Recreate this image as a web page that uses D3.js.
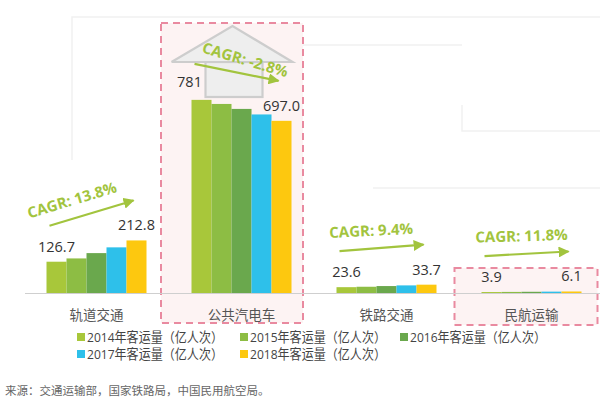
<!DOCTYPE html>
<html><head><meta charset="utf-8">
<script src="https://cdn.jsdelivr.net/npm/d3@7"></script>
<style>body{margin:0;background:#fff;}svg{display:block;font-family:"Open Sans","Noto Sans CJK SC",sans-serif;}</style>
</head><body><svg id="c" width="600" height="399"></svg>
<script>
const categories = ["轨道交通","公共汽电车","铁路交通","民航运输"];
const years = ["2014","2015","2016","2017","2018"];
const legendLabels = ["2014年客运量（亿人次）","2015年客运量（亿人次）","2016年客运量（亿人次）","2017年客运量（亿人次）","2018年客运量（亿人次）"];
const railTransit = [126.7,140.0,161.5,184.8,212.8];
const bus = [781.9,765.4,745.3,722.9,697.0];
const railway = [23.6,25.3,28.1,30.8,33.7];
const aviation = [3.9,4.4,4.9,5.5,6.1];
const firstLabels = ["126.7","781","23.6","3.9"];
const lastLabels = ["212.8","697.0","33.7","6.1"];
const cagrLabels = ["CAGR: 13.8%","CAGR: -2.8%","CAGR: 9.4%","CAGR: 11.8%"];
const sourceText = "来源：交通运输部，国家铁路局，中国民用航空局。";

const series = [railTransit, bus, railway, aviation];
const colors = ["#a8c73a","#8dbd44","#6aa84d","#2ec0ea","#fdc80f"];
const green = "#a2c43e";

const svg = d3.select("#c");
const x = d3.scaleBand().domain(categories).range([24, 604]);
const xi = d3.scaleBand().domain(years).range([-50, 50]);
const y = d3.scaleLinear().domain([0, 800]).range([293, 95.4]);
const color = d3.scaleOrdinal().domain(years).range(colors);

// faint background decoration lines
const deco = svg.append("g").attr("stroke","#f1f1f1").attr("stroke-width",1.5).attr("fill","none");
[[[72,160],[72,17],[600,17]],[[300,45],[462,45]],[[462,105],[462,131],[600,131]],[[373,188],[600,188]]]
  .forEach(p => deco.append("path").attr("d", d3.line()(p)));

// highlight boxes
function box(cat, x0pad, x1pad, yTop, yBot){
  const cx = x(cat) + x.bandwidth()/2;
  svg.append("rect").attr("x", cx + x0pad).attr("y", yTop)
    .attr("width", x1pad - x0pad).attr("height", yBot - yTop)
    .attr("fill","#fdf3f3").attr("stroke","#e98aa0").attr("stroke-width",2)
    .attr("stroke-dasharray","7,5");
}
box(categories[1], -80.5, 61.5, 23, 323);
box(categories[3], -77, 66, 268, 325);

// house icon
{
  const cx = x(categories[1]) + x.bandwidth()/2;
  const g = svg.append("g").attr("fill","#eeeeee").attr("stroke","#cdcdcd").attr("stroke-width",2.2);
  g.append("rect").attr("x", cx - 36).attr("y", 62).attr("width", 57).attr("height", 35);
  g.append("path").attr("d", d3.line()([[cx - 70, 62],[cx - 9, 26],[cx + 51, 62],[cx - 70, 62]]));
}

// baseline
svg.append("line").attr("x1",25).attr("x2",600).attr("y1",y(0)+0.5).attr("y2",y(0)+0.5)
  .attr("stroke","#cfcfcf").attr("stroke-width",1.2);

// bars
const groups = svg.append("g").selectAll("g").data(categories).join("g")
  .attr("transform", d => `translate(${x(d) + x.bandwidth()/2},0)`);
groups.selectAll("rect").data((d,i) => years.map((yr,j) => ({yr, v: series[i][j]})))
  .join("rect")
  .attr("x", d => xi(d.yr)).attr("width", xi.bandwidth())
  .attr("y", d => y(d.v)).attr("height", d => y(0) - y(d.v))
  .attr("fill", d => color(d.yr));

// value labels
categories.forEach((c,i) => {
  const cx = x(c) + x.bandwidth()/2;
  const s = series[i];
  const fx = cx + xi(years[0]) + xi.bandwidth()/2 - (i===1 ? 12 : 0);
  const lx = cx + xi(years[4]) + xi.bandwidth()/2;
  svg.append("text").attr("x", fx).attr("y", y(s[0]) - (i===1 ? 13 : 10)).attr("text-anchor","middle")
    .attr("font-size",14.5).attr("fill","#333").text(firstLabels[i]);
  svg.append("text").attr("x", lx).attr("y", y(s[4]) - 10).attr("text-anchor","middle")
    .attr("font-size",14.5).attr("fill","#333").text(lastLabels[i]);
});

// CAGR arrows & text
svg.append("defs").append("marker").attr("id","ah").attr("viewBox","0 0 10 10")
  .attr("refX",9).attr("refY",5).attr("markerWidth",5).attr("markerHeight",5)
  .attr("orient","auto").attr("markerUnits","strokeWidth")
  .append("path").attr("d","M0,0L10,5L0,10z").attr("fill",green);
const along = [-15, 6, -9, -4];
const perp = [18, 14, 18, 18];
const extraRot = [0, 5, 1.5, 1.5];
categories.forEach((c,i) => {
  const cx = x(c) + x.bandwidth()/2;
  const s = series[i];
  const x0 = cx - 47, x1 = cx + 37;
  const y0 = y(s[0]) - 36, y1 = y(s[4]) - 40;
  svg.append("line").attr("x1",x0).attr("y1",y0).attr("x2",x1).attr("y2",y1)
    .attr("stroke",green).attr("stroke-width",2.2).attr("marker-end","url(#ah)");
  const ang = Math.atan2(y1 - y0, x1 - x0);
  const mx = (x0 + x1)/2, my = (y0 + y1)/2;
  const tx = mx + along[i]*Math.cos(ang) + perp[i]*Math.sin(ang);
  const ty = my + along[i]*Math.sin(ang) - perp[i]*Math.cos(ang);
  svg.append("text").attr("transform", `translate(${tx},${ty}) rotate(${ang*180/Math.PI + extraRot[i]})`)
    .attr("text-anchor","middle").attr("dy","0.35em")
    .attr("font-size",15).attr("font-weight",700).attr("fill",green).text(cagrLabels[i]);
});

// category labels
svg.append("g").selectAll("text").data(categories).join("text")
  .attr("x", d => x(d) + x.bandwidth()/2).attr("y", 320)
  .attr("text-anchor","middle").attr("font-size",13.5).attr("fill","#555").text(d => d);

// legend
const legPos = [[77,337],[240,337],[400,337],[77,354],[240,354]];
years.forEach((yr,i) => {
  const [lx, ly] = legPos[i];
  svg.append("rect").attr("x", lx).attr("y", ly - 4).attr("width", 8).attr("height", 8).attr("fill", color(yr));
  svg.append("text").attr("x", lx + 10).attr("y", ly).attr("dy","0.35em")
    .attr("font-size",13.5).attr("fill","#444")
    .attr("textLength",136).attr("lengthAdjust","spacingAndGlyphs").text(legendLabels[i]);
});

// source
svg.append("text").attr("x",5).attr("y",391).attr("dy","0.35em")
  .attr("font-size",11.5).attr("fill","#666")
  .text(sourceText);
</script></body></html>
